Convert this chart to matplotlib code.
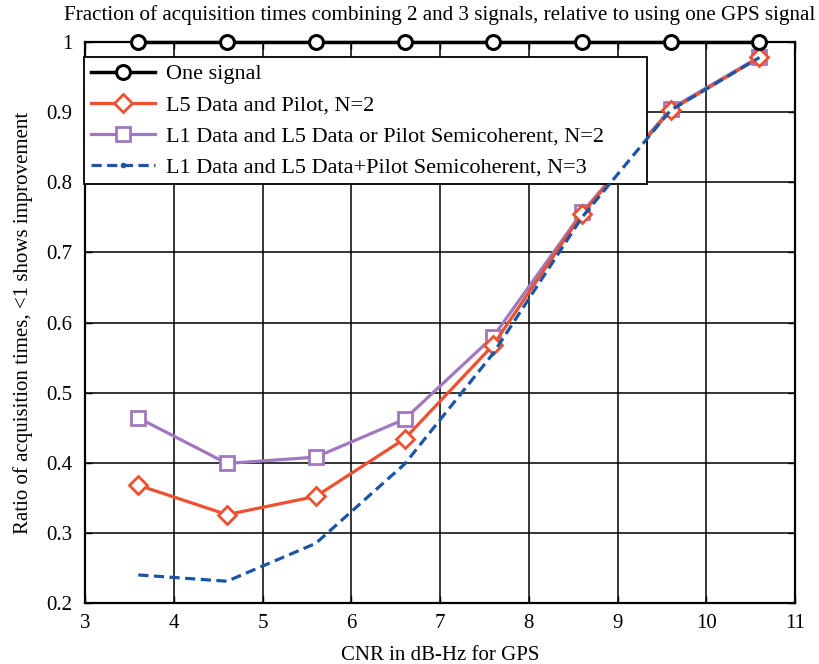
import matplotlib
matplotlib.use("Agg")
import matplotlib.pyplot as plt
from matplotlib.lines import Line2D

cnr = [3.6, 4.6, 5.6, 6.6, 7.6, 8.6, 9.6, 10.6]
one_signal = [1, 1, 1, 1, 1, 1, 1, 1]
l5_data_pilot = [0.368, 0.326, 0.352, 0.434, 0.568, 0.755, 0.903, 0.978]
l1_l5_or = [0.464, 0.399, 0.408, 0.462, 0.580, 0.757, 0.905, 0.979]
l1_l5_plus = [0.240, 0.231, 0.285, 0.398, 0.556, 0.750, 0.903, 0.978]

labels = ["One signal", "L5 Data and Pilot, N=2",
          "L1 Data and L5 Data or Pilot Semicoherent, N=2",
          "L1 Data and L5 Data+Pilot Semicoherent, N=3"]
x_ticks = [3, 4, 5, 6, 7, 8, 9, 10, 11]
y_ticks = [0.2, 0.3, 0.4, 0.5, 0.6, 0.7, 0.8, 0.9, 1.0]
y_tick_labels = ['0.2', '0.3', '0.4', '0.5', '0.6', '0.7', '0.8', '0.9', '1']

plt.rcParams['font.family'] = ['Liberation Serif', 'DejaVu Serif']
plt.rcParams['font.size'] = 15

fig = plt.figure(figsize=(8.2, 6.64), dpi=100)
ax = fig.add_axes([0.1037, 0.0919, 0.8658, 0.8448])

blue = '#1a55a8'
dash = (0, (3.2, 1.7))

h1, = ax.plot(cnr, one_signal, color='black', lw=2.5, marker='o', ms=10,
              mfc='white', mec='black', mew=2.2, clip_on=False, zorder=5)
h2, = ax.plot(cnr, l5_data_pilot, color='#ee5030', lw=2.3, marker='D', ms=9.5,
              mfc='white', mec='#ee5030', mew=2.0, zorder=4)
h3, = ax.plot(cnr, l1_l5_or, color='#a078bf', lw=2.3, marker='s', ms=10.5,
              mfc='white', mec='#a078bf', mew=2.0, zorder=3)
ax.plot(cnr, l1_l5_plus, color=blue, lw=2.3, ls=dash, zorder=6)
# legend entry for the dashed series shows its small dot marker
h4 = Line2D([], [], color=blue, lw=2.3, ls=dash, marker='.', ms=6)

ax.set_xlim(3, 11)
ax.set_ylim(0.2, 1.0)
ax.set_xticks(x_ticks)
ax.set_yticks(y_ticks)
ax.set_yticklabels(y_tick_labels)
ax.grid(True, color='black', lw=1.1)
ax.set_axisbelow(True)
ax.tick_params(direction='in', top=True, right=True, length=5, width=1)
ax.tick_params(axis='y', pad=9)
ax.tick_params(axis='x', pad=8)
for s in ax.spines.values():
    s.set_linewidth(1.6)

ax.set_xlabel("CNR in dB-Hz for GPS", labelpad=9)
ax.set_ylabel("Ratio of acquisition times, <1 shows improvement", labelpad=10)
ax.set_title("Fraction of acquisition times combining 2 and 3 signals, relative to using one GPS signal",
             fontsize=15.2, pad=16)

leg = ax.legend([h1, h2, h3, h4], labels, loc='upper left',
                bbox_to_anchor=(-0.0014, 0.973, 0.793, 0),
                mode='expand', fancybox=False, framealpha=1, edgecolor='black',
                borderpad=0.3, handlelength=2.9, handletextpad=0.5,
                labelspacing=0.47, borderaxespad=0, fontsize=16)
leg.get_frame().set_linewidth(1.3)

fig.savefig("out.png", dpi=100)
